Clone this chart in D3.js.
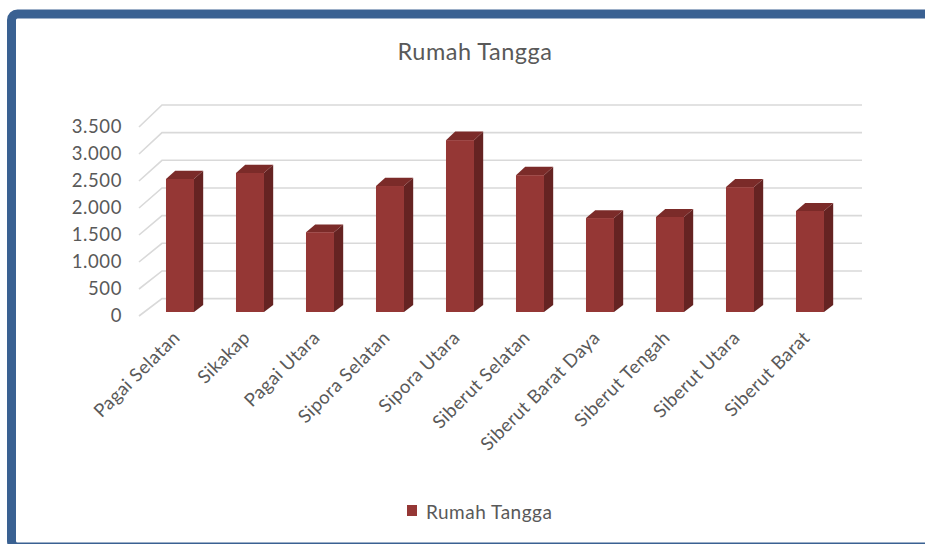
<!DOCTYPE html>
<html>
<head>
<meta charset="utf-8">
<script src="https://cdn.jsdelivr.net/npm/d3@7"></script>
<style>
  body { margin: 0; background: #fff; }
  text { font-family: Lato, "Open Sans", sans-serif; fill: #595959; }
</style>
</head>
<body>
<div id="chart"></div>
<script>
// data
var categories = ["Pagai Selatan", "Sikakap", "Pagai Utara", "Sipora Selatan", "Sipora Utara",
                  "Siberut Selatan", "Siberut Barat Daya", "Siberut Tengah", "Siberut Utara", "Siberut Barat"];
var rumahTangga = [2450, 2560, 1470, 2320, 3165, 2520, 1730, 1750, 2300, 1860];
var yTicks = [0, 500, 1000, 1500, 2000, 2500, 3000, 3500];
var tickLabels = ["0", "500", "1.000", "1.500", "2.000", "2.500", "3.000", "3.500"];
var seriesName = "Rumah Tangga";

var width = 925, height = 544;

var svg = d3.select("#chart").append("svg")
    .attr("width", width)
    .attr("height", height);

// frame
svg.append("rect")
    .attr("x", 11.5).attr("y", 14)
    .attr("width", 1000).attr("height", 533)
    .attr("rx", 6)
    .style("fill", "none")
    .style("stroke", "#3a6192")
    .style("stroke-width", 9);

// front plane and back wall (3d look)
var xFront = d3.scaleBand().domain(categories).range([139, 839]);
var xBack = d3.scaleBand().domain(categories).range([162, 862]);
var yFront = d3.scaleLinear().domain([0, 3500]).range([316, 127]);
var yBack = d3.scaleLinear().domain([0, 3500]).range([298.6, 105]);

function px(c, t) { return xFront(c) * (1 - t) + xBack(c) * t; }
function py(v, t) { return yFront(v) * (1 - t) + yBack(v) * t; }

// gridlines
var grid = svg.append("g").attr("class", "grid");
grid.selectAll("polyline")
    .data(yTicks)
  .enter().append("polyline")
    .attr("points", function(d) {
      return [xFront.range()[0], yFront(d), xBack.range()[0], yBack(d), xBack.range()[1], yBack(d)].join(" ");
    })
    .style("fill", "none")
    .style("stroke", "#d9d9d9")
    .style("stroke-width", 1.6);

// y labels
svg.append("g").selectAll("text")
    .data(yTicks)
  .enter().append("text")
    .attr("x", 122)
    .attr("y", function(d) { return yFront(d); })
    .attr("dy", "0.35em")
    .style("text-anchor", "end")
    .style("font-size", "18.5px")
    .style("letter-spacing", "0.6px")
    .text(function(d, i) { return tickLabels[i]; });

// bars
var t0 = 0.23, t1 = 0.63;
var barLeft = 0.31, barW = 0.4;
var bars = svg.append("g").selectAll("g")
    .data(categories)
  .enter().append("g");

bars.append("polygon") // side
    .attr("points", function(d, i) {
      var bw = xFront.bandwidth();
      var xa = px(d, t0) + bw * (barLeft + barW), xb = px(d, t1) + bw * (barLeft + barW);
      return [xa, py(0, t0), xa, py(rumahTangga[i], t0), xb, py(rumahTangga[i], t1), xb, py(0, t1)].join(" ");
    })
    .style("fill", "#652322");

bars.append("polygon") // top
    .attr("points", function(d, i) {
      var bw = xFront.bandwidth(), v = rumahTangga[i];
      var a = px(d, t0) + bw * barLeft, b = px(d, t1) + bw * barLeft;
      return [a, py(v, t0), a + bw * barW, py(v, t0), b + bw * barW, py(v, t1), b, py(v, t1)].join(" ");
    })
    .style("fill", "#7b2b29");

bars.append("rect") // front
    .attr("x", function(d) { return px(d, t0) + xFront.bandwidth() * barLeft; })
    .attr("y", function(d, i) { return py(rumahTangga[i], t0); })
    .attr("width", xFront.bandwidth() * barW)
    .attr("height", function(d, i) { return py(0, t0) - py(rumahTangga[i], t0); })
    .style("fill", "#953735");

// x labels
svg.append("g").selectAll("text")
    .data(categories)
  .enter().append("text")
    .attr("transform", function(d) {
      return "translate(" + (xFront(d) + xFront.bandwidth() / 2 + 7) + ",339) rotate(-45)";
    })
    .style("text-anchor", "end")
    .style("font-size", "18.5px")
    .style("letter-spacing", "0.4px")
    .text(function(d) { return d; });

// title
svg.append("text")
    .attr("x", 475)
    .attr("y", 60)
    .style("text-anchor", "middle")
    .style("font-size", "23.5px")
    .style("letter-spacing", "0.5px")
    .text(seriesName);

// legend
var legend = svg.append("g").attr("class", "legend");
legend.append("rect")
    .attr("x", 407).attr("y", 505)
    .attr("width", 10).attr("height", 11)
    .style("fill", "#953735");
legend.append("text")
    .attr("x", 426).attr("y", 519)
    .style("font-size", "19px")
    .style("letter-spacing", "0.5px")
    .text(seriesName);
</script>
</body>
</html>
